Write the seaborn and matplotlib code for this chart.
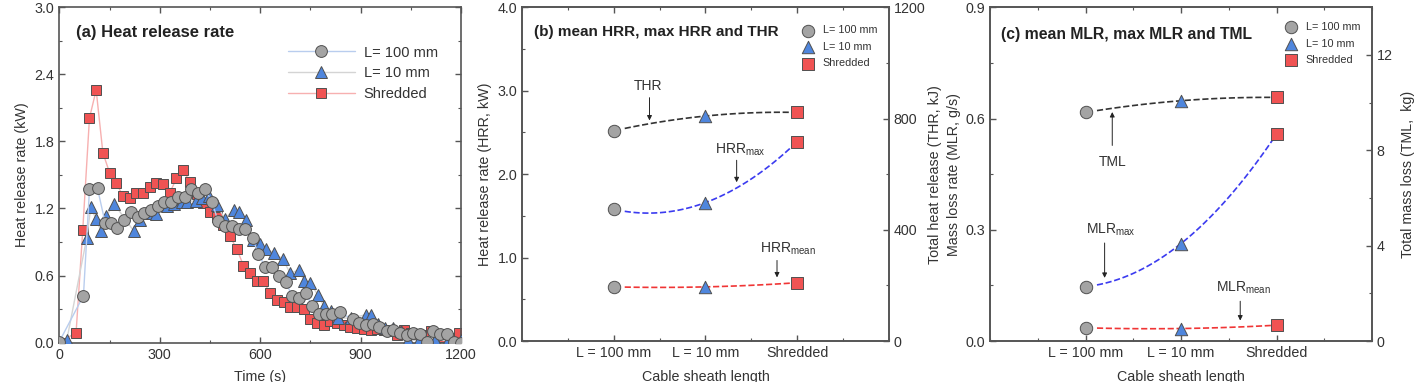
import numpy as np
import seaborn as sns
import matplotlib.pyplot as plt
from matplotlib.ticker import MultipleLocator

sns.set_style("ticks")
plt.rcParams['font.family'] = ['Liberation Sans', 'DejaVu Sans']
plt.rcParams['mathtext.fontset'] = 'custom'
plt.rcParams['mathtext.rm'] = 'Liberation Sans'

# ---- panel (a) heat release rate curves ----
t_100 = [0, 72, 90, 114, 137, 154, 172, 194, 214, 234, 254, 274, 294, 314, 334, 354, 374,
         394, 414, 436, 456, 474, 494, 516, 536, 556, 578, 594, 616, 636, 656, 676, 696,
         716, 736, 756, 776, 796, 816, 838, 876, 896, 916, 936, 956, 978, 998, 1018,
         1038, 1058, 1078, 1098, 1118, 1138, 1158, 1178, 1200]
hrr_100 = [0.01, 0.42, 1.37, 1.38, 1.07, 1.07, 1.03, 1.10, 1.17, 1.12, 1.16, 1.19, 1.22,
           1.26, 1.26, 1.30, 1.30, 1.37, 1.34, 1.37, 1.26, 1.09, 1.04, 1.04, 1.02, 1.02,
           0.94, 0.79, 0.68, 0.68, 0.60, 0.54, 0.42, 0.40, 0.44, 0.33, 0.26, 0.26, 0.26,
           0.27, 0.21, 0.18, 0.16, 0.17, 0.14, 0.10, 0.11, 0.09, 0.07, 0.09, 0.08, 0.01,
           0.10, 0.08, 0.08, 0.01, 0.0]

t_10 = [22, 82, 94, 109, 124, 139, 164, 222, 242, 262, 290, 322, 344, 367, 382, 407, 427,
        447, 472, 494, 522, 537, 557, 580, 600, 618, 642, 667, 690, 715, 732, 750, 772,
        790, 812, 832, 872, 916, 930, 952, 974, 997, 1022, 1042, 1074, 1122, 1162, 1200]
hrr_10 = [0.02, 0.94, 1.21, 1.11, 1.00, 1.13, 1.24, 1.00, 1.10, 1.16, 1.15, 1.22, 1.24,
          1.26, 1.26, 1.27, 1.29, 1.31, 1.23, 1.11, 1.19, 1.17, 1.10, 0.92, 0.88, 0.84,
          0.80, 0.75, 0.62, 0.65, 0.55, 0.53, 0.43, 0.33, 0.28, 0.22, 0.22, 0.25, 0.25,
          0.17, 0.13, 0.13, 0.10, 0.02, 0.02, 0.02, 0.02, 0.02]

t_sh = [0, 50, 70, 90, 110, 130, 150, 170, 190, 210, 230, 250, 270, 290, 310, 330, 350,
        370, 390, 410, 430, 450, 470, 490, 510, 530, 550, 570, 590, 610, 630, 650, 670,
        690, 710, 730, 750, 770, 790, 810, 830, 850, 870, 890, 910, 930, 950, 970, 990,
        1010, 1030, 1050, 1070, 1090, 1110, 1130, 1150, 1170, 1195]
hrr_sh = [0.0, 0.09, 1.01, 2.01, 2.26, 1.70, 1.52, 1.43, 1.31, 1.29, 1.34, 1.34, 1.39,
          1.43, 1.42, 1.34, 1.47, 1.54, 1.44, 1.33, 1.25, 1.17, 1.12, 1.05, 0.95, 0.84,
          0.69, 0.62, 0.55, 0.55, 0.44, 0.38, 0.36, 0.32, 0.32, 0.30, 0.21, 0.18, 0.16,
          0.19, 0.18, 0.16, 0.14, 0.13, 0.12, 0.11, 0.12, 0.11, 0.10, 0.07, 0.11, 0.09,
          0.08, 0.07, 0.10, 0.05, 0.05, 0.04, 0.09]

# ---- panels (b) and (c) ----
cats = ["L = 100 mm", "L = 10 mm", "Shredded"]
legend_labels = ["L= 100 mm", "L= 10 mm", "Shredded"]
thr = [756, 809, 822]          # kJ, right axis
hrr_max = [1.58, 1.66, 2.39]   # kW
hrr_mean = [0.65, 0.65, 0.70]
tml = [9.59, 10.08, 10.22]     # kg, right axis
mlr_max = [0.147, 0.263, 0.558]
mlr_mean = [0.036, 0.034, 0.043]

gray, blue, red = "#a4a4a4", "#4f86dd", "#f05353"
edge = "#505050"
markers = ["o", "^", "s"]
fills = [gray, blue, red]
tick_col = "#333333"
FS = 10.3

fig = plt.figure(figsize=(14.2, 3.82), dpi=100)
ax_a = fig.add_axes([0.0418, 0.103, 0.2828, 0.878])
ax_b = fig.add_axes([0.3676, 0.107, 0.2584, 0.874])
ax_c = fig.add_axes([0.6972, 0.107, 0.2690, 0.874])


def style(ax, right=True, top=True):
    for s in ax.spines.values():
        s.set_color("#555555")
        s.set_linewidth(1.2)
    ax.tick_params(which="both", direction="in", top=top, right=right,
                   colors="#555555", labelcolor=tick_col, labelsize=FS)
    ax.tick_params(which="major", length=4, width=1.0)
    ax.tick_params(which="minor", length=2.5, width=0.8)


# panel (a)
series = [(t_100, hrr_100, "#b9cdee", "o", gray, 8.5, "L= 100 mm", 4),
          (t_10, hrr_10, "#d4d4d4", "^", blue, 8.0, "L= 10 mm", 3),
          (t_sh, hrr_sh, "#f7b0b0", "s", red, 7.0, "Shredded", 2)]
handles = []
for tt, vv, lc, mk, fc, ms, lab, z in series:
    sns.lineplot(x=tt, y=vv, ax=ax_a, color=lc, lw=1.0, marker=mk, markersize=ms,
                 markerfacecolor=fc, markeredgecolor=edge, markeredgewidth=0.7,
                 label=lab, zorder=z, legend=False)
    handles.append(ax_a.get_lines()[-1])
ax_a.set_xlim(0, 1200)
ax_a.set_ylim(0, 3.0)
ax_a.xaxis.set_major_locator(MultipleLocator(300))
ax_a.xaxis.set_minor_locator(MultipleLocator(150))
ax_a.yaxis.set_major_locator(MultipleLocator(0.6))
ax_a.yaxis.set_minor_locator(MultipleLocator(0.3))
ax_a.yaxis.set_major_formatter(plt.FormatStrFormatter("%.1f"))
style(ax_a)
ax_a.set_xlabel("Time (s)", fontsize=FS, color=tick_col, labelpad=6)
ax_a.set_ylabel("Heat release rate (kW)", fontsize=FS, color=tick_col, labelpad=4)
ax_a.text(0.042, 0.925, "(a) Heat release rate", transform=ax_a.transAxes,
          fontsize=12, fontweight="bold", color="#222222", va="center")
ax_a.legend(handles=handles, labels=legend_labels, loc="upper right",
            bbox_to_anchor=(0.975, 0.925), frameon=False, fontsize=10.5,
            handlelength=4.6, labelspacing=0.45, handletextpad=0.6, labelcolor="#333333")


def cat_panel(ax, main_mid, main_low, right_vals, left_lim, right_lim,
              left_step, right_step, fmt, leg_anchor):
    x = np.arange(3)
    ax2 = ax.twinx()
    xs = np.linspace(0.12, 2.0, 60)
    fit_r = np.polyfit(x, right_vals, 2)
    fit_m = np.polyfit(x, main_mid, 2)
    fit_l = np.polyfit(x, main_low, 2)
    sns.lineplot(x=xs, y=np.polyval(fit_r, xs), ax=ax2, color="#333333", lw=1.2,
                 dashes=(4, 3), linestyle="--")
    sns.lineplot(x=xs, y=np.polyval(fit_m, xs), ax=ax, color="#3b3bf0", lw=1.2,
                 linestyle="--", dashes=(4, 3))
    sns.lineplot(x=xs, y=np.polyval(fit_l, xs), ax=ax, color="#f03535", lw=1.2,
                 linestyle="--", dashes=(4, 3))
    hs = []
    for i in range(3):
        sns.scatterplot(x=[x[i]] * 2, y=[main_mid[i], main_low[i]], ax=ax, marker=markers[i],
                        s=80, color=fills[i], edgecolor=edge, linewidth=0.7, zorder=5,
                        legend=False)
        sns.scatterplot(x=[x[i]], y=[right_vals[i]], ax=ax2, marker=markers[i],
                        s=80, color=fills[i], edgecolor=edge, linewidth=0.7, zorder=5,
                        legend=False)
        hs.append(ax.collections[-1])
    ax.set_xlim(-1, 3)
    ax.set_ylim(*left_lim)
    ax2.set_ylim(*right_lim)
    ax.set_xticks(x)
    ax.set_xticklabels(cats)
    ax.xaxis.set_minor_locator(MultipleLocator(0.5))
    ax.yaxis.set_major_locator(MultipleLocator(left_step))
    ax.yaxis.set_minor_locator(MultipleLocator(left_step / 2))
    ax.yaxis.set_major_formatter(plt.FormatStrFormatter(fmt))
    ax2.yaxis.set_major_locator(MultipleLocator(right_step))
    ax2.yaxis.set_minor_locator(MultipleLocator(right_step / 2))
    style(ax, right=False)
    style(ax2, right=True, top=False)
    ax2.tick_params(which="both", left=False)
    ax.set_xlabel("Cable sheath length", fontsize=FS, color=tick_col, labelpad=7)
    ax.legend(handles=hs, labels=legend_labels, loc="upper right",
              bbox_to_anchor=leg_anchor, frameon=False, fontsize=7.8,
              handletextpad=0.4, labelspacing=0.6, labelcolor="#333333",
              markerscale=1.0)
    return ax2


arrow = dict(arrowstyle="-|>", color="#222222", lw=0.7, mutation_scale=7)
afs = 10

# panel (b)
ax_b2 = cat_panel(ax_b, hrr_max, hrr_mean, thr, (0, 4.0), (0, 1200), 1.0, 400, "%.1f",
                  (0.995, 0.975))
ax_b.set_ylabel("Heat release rate (HRR, kW)", fontsize=FS, color=tick_col, labelpad=4)
ax_b2.set_ylabel("Total heat release (THR, kJ)", fontsize=FS, color=tick_col, labelpad=2)
ax_b.text(0.033, 0.925, "(b) mean HRR, max HRR and THR", transform=ax_b.transAxes,
          fontsize=11, fontweight="bold", color="#222222", va="center")
ax_b.annotate("", xy=(0.39, 2.61), xytext=(0.39, 2.95), arrowprops=arrow)
ax_b.text(0.37, 3.06, "THR", fontsize=afs, color="#333333", ha="center", va="center")
ax_b.annotate("", xy=(1.34, 1.87), xytext=(1.34, 2.20), arrowprops=arrow)
ax_b.text(1.38, 2.29, r"HRR$_{\mathrm{max}}$", fontsize=afs, color="#333333", ha="center", va="center")
ax_b.annotate("", xy=(1.78, 0.73), xytext=(1.78, 1.00), arrowprops=arrow)
ax_b.text(1.9, 1.11, r"HRR$_{\mathrm{mean}}$", fontsize=afs, color="#333333", ha="center", va="center")

# panel (c)
ax_c2 = cat_panel(ax_c, mlr_max, mlr_mean, tml, (0, 0.9), (0, 14), 0.3, 4, "%.1f",
                  (0.995, 0.985))
ax_c.set_ylabel("Mass loss rate (MLR, g/s)", fontsize=FS, color=tick_col, labelpad=3)
ax_c2.set_ylabel("Total mass loss (TML,  kg)", fontsize=FS, color=tick_col, labelpad=6)
ax_c.text(0.029, 0.917, "(c) mean MLR, max MLR and TML", transform=ax_c.transAxes,
          fontsize=11.3, fontweight="bold", color="#222222", va="center")
ax_c.annotate("", xy=(0.28, 0.625), xytext=(0.28, 0.52), arrowprops=arrow)
ax_c.text(0.28, 0.482, "TML", fontsize=afs, color="#333333", ha="center", va="center")
ax_c.annotate("", xy=(0.2, 0.163), xytext=(0.2, 0.272), arrowprops=arrow)
ax_c.text(0.27, 0.30, r"MLR$_{\mathrm{max}}$", fontsize=afs, color="#333333", ha="center", va="center")
ax_c.annotate("", xy=(1.62, 0.048), xytext=(1.62, 0.115), arrowprops=arrow)
ax_c.text(1.65, 0.145, r"MLR$_{\mathrm{mean}}$", fontsize=afs, color="#333333", ha="center", va="center")

fig.savefig("out.png", dpi=100)
